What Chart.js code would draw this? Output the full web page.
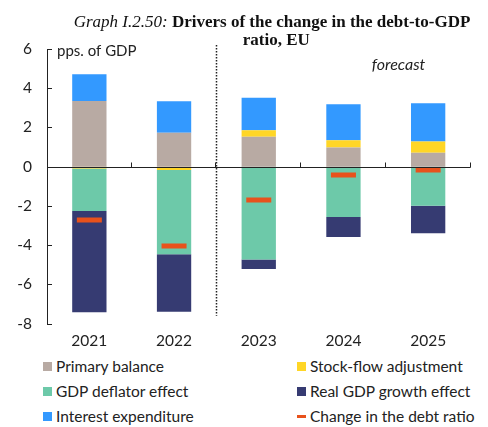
<!DOCTYPE html>
<html>
<head>
<meta charset="utf-8">
<script src="https://cdn.jsdelivr.net/npm/chart.js@4.4.1/dist/chart.umd.min.js"></script>
<style>
  body { margin: 0; background: #fff; }
  #wrap { position: relative; width: 488px; height: 427px; font-family: Lato, sans-serif; color: #222; }
  #debtChart { position: absolute; left: 0; top: 0; }
  #title { position: absolute; top: 13px; left: 62px; width: 420px; text-align: center;
           font-family: "Liberation Serif", serif; font-size: 17px; line-height: 18px; color: #111; }
  #title i { font-weight: normal; }
  .leg { position: absolute; font-size: 15.5px; line-height: 18px; white-space: nowrap; }
  .sw { position: absolute; width: 9px; height: 9px; left: -13px; top: 5px; }
  .sw.line { height: 3px; top: 8px; }
</style>
</head>
<body>
<div id="wrap">
  <canvas id="debtChart" width="488" height="350"></canvas>
  <div id="title"><i>Graph I.2.50:</i> <b>Drivers of the change in the debt-to-GDP<br>&nbsp;&nbsp;ratio, EU</b></div>
  <div id="legend"></div>
</div>
<script>
// values (pps. of GDP)
const years = ['2021', '2022', '2023', '2024', '2025'];
const primaryBalance = [3.35, 1.73, 1.52, 0.97, 0.71];
const stockFlow = [-0.10, -0.17, 0.34, 0.38, 0.57];
const deflatorEffect = [-2.16, -4.30, -4.74, -2.57, -2.00];
const realGdpEffect = [-5.17, -2.93, -0.48, -1.02, -1.40];
const interestExp = [1.36, 1.61, 1.66, 1.83, 1.95];
const debtChange = [-2.72, -4.05, -1.70, -0.42, -0.17];
const yTicks = [-8, -6, -4, -2, 0, 2, 4, 6];

const colors = {
    pb: '#b8aaa3',
    sfa: '#ffd626',
    defl: '#6dc9a9',
    rgdp: '#363b72',
    int: '#3399ff',
    chg: '#e8521c'
};

const tickFont = { family: 'Lato, sans-serif', size: 15.5 };

// axis lines, ticks and the forecast divider
const decorations = {
    id: 'decorations',
    afterDraw(chart) {
        const { ctx, chartArea, scales: { x, y } } = chart;
        ctx.save();
        ctx.strokeStyle = '#222';
        ctx.lineWidth = 1;
        // zero line
        const y0 = Math.round(y.getPixelForValue(0)) + 0.5;
        ctx.beginPath();
        ctx.moveTo(chartArea.left, y0);
        ctx.lineTo(chartArea.right, y0);
        // tick marks on zero line between categories
        for (let i = 0; i < years.length; i++) {
            const px = Math.round(x.getPixelForValue(i + 0.5)) - 0.5;
            ctx.moveTo(px, y0);
            ctx.lineTo(px, y0 - 5);
        }
        // inward y ticks
        yTicks.forEach(v => {
            const py = Math.round(y.getPixelForValue(v)) + 0.5;
            ctx.moveTo(chartArea.left, py);
            ctx.lineTo(chartArea.left + 5, py);
        });
        ctx.stroke();

        // dotted divider between actual and forecast
        const dx = Math.round(x.getPixelForValue(1.5)) + 0.5;
        ctx.setLineDash([1.5, 1.5]);
        ctx.lineWidth = 1.5;
        ctx.beginPath();
        ctx.moveTo(dx, chartArea.top - 4);
        ctx.lineTo(dx, y.getPixelForValue(-7.6));
        ctx.stroke();
        ctx.setLineDash([]);

        // labels
        ctx.fillStyle = '#222';
        ctx.textBaseline = 'middle';
        ctx.textAlign = 'left';
        ctx.font = '15px Lato, sans-serif';
        ctx.fillText('pps. of GDP', chartArea.left + 10, chartArea.top + 2.5);
        ctx.font = 'italic 16px Lato, sans-serif';
        ctx.textAlign = 'center';
        ctx.fillText('forecast', x.getPixelForValue(3.65), y.getPixelForValue(5.2));
        ctx.restore();
    }
};

const ctx = document.getElementById('debtChart').getContext('2d');
const debtChart = new Chart(ctx, {
    type: 'bar',
    data: {
        labels: years,
        datasets: [
            { label: 'Primary balance', data: primaryBalance, backgroundColor: colors.pb, order: 1 },
            { label: 'Stock-flow adjustment', data: stockFlow, backgroundColor: colors.sfa, order: 1 },
            { label: 'GDP deflator effect', data: deflatorEffect, backgroundColor: colors.defl, order: 1 },
            { label: 'Real GDP growth effect', data: realGdpEffect, backgroundColor: colors.rgdp, order: 1 },
            { label: 'Interest expenditure', data: interestExp, backgroundColor: colors.int, order: 1 },
            {
                type: 'line',
                label: 'Change in the debt ratio',
                data: debtChange,
                order: 0,
                showLine: false,
                pointStyle: 'line',
                pointRadius: 12.5,
                pointHoverRadius: 12.5,
                pointBorderWidth: 5,
                pointHoverBorderWidth: 5,
                pointBorderColor: colors.chg,
                borderColor: colors.chg,
                backgroundColor: colors.chg
            }
        ]
    },
    options: {
        responsive: false,
        animation: false,
        barPercentage: 0.405,
        categoryPercentage: 1,
        layout: { padding: { top: 49, right: 1, left: 0, bottom: 0 } },
        plugins: {
            legend: { display: false },
            tooltip: { enabled: false }
        },
        scales: {
            x: {
                stacked: true,
                grid: { display: false, drawTicks: false },
                border: { display: false },
                ticks: { color: '#222', font: tickFont, padding: 8, maxRotation: 0 },
                afterFit(scale) { scale.height = 26.5; }
            },
            y: {
                stacked: true,
                min: -8,
                max: 6,
                grid: { display: false, drawTicks: false },
                border: { display: true, color: '#222', width: 1 },
                ticks: { color: '#222', font: tickFont, padding: 15, stepSize: 2 },
                afterFit(scale) { scale.width = 47; }
            }
        }
    },
    plugins: [decorations]
});

// two-column legend under the chart
const legendItems = [
    ['Primary balance', colors.pb, 56, 357, false],
    ['Stock-flow adjustment', colors.sfa, 310, 357, false],
    ['GDP deflator effect', colors.defl, 56, 382, false],
    ['Real GDP growth effect', colors.rgdp, 310, 382, false],
    ['Interest expenditure', colors.int, 56, 407, false],
    ['Change in the debt ratio', colors.chg, 310, 407, true]
];
const legendBox = document.getElementById('legend');
legendItems.forEach(([text, color, left, top, isLine]) => {
    const item = document.createElement('div');
    item.className = 'leg';
    item.style.left = left + 'px';
    item.style.top = top + 'px';
    item.innerHTML = '<span class="sw' + (isLine ? ' line' : '') + '" style="background:' + color + '"></span>' + text;
    legendBox.appendChild(item);
});
</script>
</body>
</html>
